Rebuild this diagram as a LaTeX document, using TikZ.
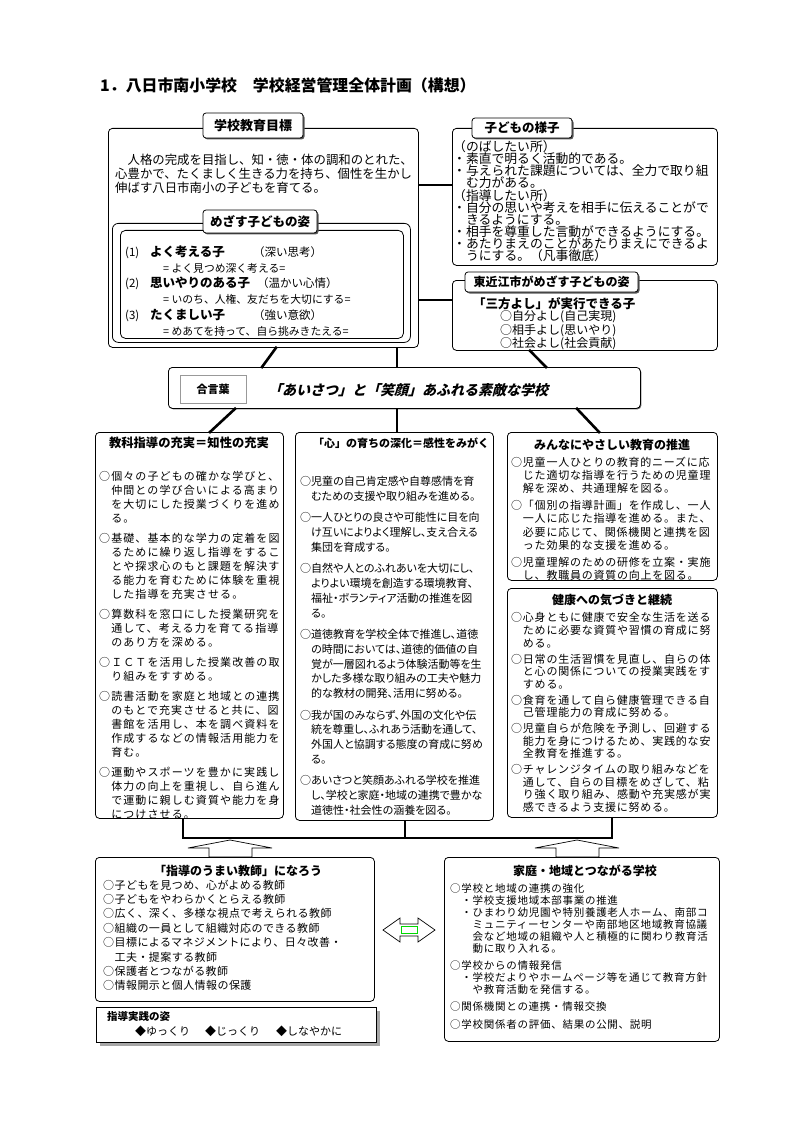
\documentclass[tikz,border=0pt]{standalone}
\usepackage{fontspec}
\setmainfont{Noto Sans CJK JP}
\newfontfamily\jpwa[LetterSpace=10]{Noto Sans CJK JP}
\newfontfamily\jpwb[LetterSpace=7]{Noto Sans CJK JP}
\newfontfamily\jpwc[LetterSpace=4]{Noto Sans CJK JP}
\newfontfamily\jpp[RawFeature=+palt]{Noto Sans CJK JP}
\newfontfamily\jpit[FakeSlant=0.25]{Noto Sans CJK JP}
\usetikzlibrary{shadows,calc}
\newcommand{\fs}[2]{\fontsize{#1}{#2}\selectfont}
\tikzset{
  box/.style={draw, line width=0.8pt, rounded corners=4pt, fill=white, anchor=north west, inner sep=0pt},
  tabbox/.style={draw, line width=0.8pt, rounded corners=3pt, fill=white, inner sep=0pt,
     drop shadow={shadow xshift=1.5pt, shadow yshift=-1.5pt, fill=black!65, opacity=1}},
  conn/.style={line width=2.6pt, line cap=rect},
  txt/.style={anchor=north west, inner sep=0pt, align=left},
  ttl/.style={inner sep=0pt, font=\bfseries},
  outline/.style={draw, line width=0.7pt, fill=white, line join=miter},
}
\begin{document}
\begin{tikzpicture}[x=1pt,y=-1pt]
\useasboundingbox (0,0) rectangle (794,1123);
\fill[white] (0,0) rectangle (794,1123);

% title
\node[anchor=west, inner sep=0pt, font=\bfseries\fs{15.9}{17}] (title) at (100,85) {1．八日市南小学校　学校経営管理全体計画（構想）};

% ---------- school goal box ----------
\node[box, minimum width=310pt, minimum height=219pt] (A) at (108,128) {};
\node[tabbox, minimum width=100pt, minimum height=25pt, font=\bfseries\fs{13}{14}] (Atab) at (253,125.5) {学校教育目標};
\node[txt, font=\fs{12.4}{14}] (Atext) at (115,153.5) {　人格の完成を目指し、知・徳・体の調和のとれた、\\心豊かで、たくましく生きる力を持ち、個性を生かし\\伸ばす八日市南小の子どもを育てる。};

\node[box, minimum width=298pt, minimum height=119pt, rounded corners=6pt] (Bo) at (112,223) {};
\node[box, minimum width=283pt, minimum height=108pt, rounded corners=5pt] (Bi) at (120,230) {};
\node[tabbox, minimum width=114pt, minimum height=23pt, font=\bfseries\fs{12.5}{13}] (Btab) at (260,221.5) {めざす子どもの姿};
\node[txt, font=\fs{11.5}{15.8}] (Btext) at (125,245.5) {%
\makebox[25pt][l]{(1)}\makebox[103pt][l]{\bfseries\fs{12.5}{15.8}よく考える子}（深い思考）\\
\hspace*{38pt}{\fs{10.8}{15.8}= よく見つめ深く考える=}\\
\makebox[25pt][l]{(2)}\makebox[107pt][l]{\bfseries\fs{12.5}{15.8}思いやりのある子}（温かい心情）\\
\hspace*{38pt}{\fs{10.8}{15.8}= いのち、人権、友だちを大切にする=}\\
\makebox[25pt][l]{(3)}\makebox[103pt][l]{\bfseries\fs{12.5}{15.8}たくましい子}（強い意欲）\\
\hspace*{38pt}{\fs{10.8}{15.8}= めあてを持って、自ら挑みきたえる=}};

% ---------- children box ----------
\node[box, minimum width=265pt, minimum height=137pt] (C) at (452,128) {};
\node[tabbox, minimum width=100pt, minimum height=20pt, font=\bfseries\fs{12.5}{13}] (Ctab) at (522,128) {子どもの様子};
\node[txt, font=\fs{12.8}{12.1}] (Ctext) at (453,140.5) {（のばしたい所）\\・素直で明るく活動的である。\\・与えられた課題については、全力で取り組\\　む力がある。\\（指導したい所）\\・自分の思いや考えを相手に伝えることがで\\　きるようにする。\\・相手を尊重した言動ができるようにする。\\・あたりまえのことがあたりまえにできるよ\\　うにする。（凡事徹底）};

\node[box, minimum width=265pt, minimum height=70pt] (D) at (452,280) {};
\node[tabbox, minimum width=173pt, minimum height=20pt, font=\bfseries\fs{12}{13}] (Dtab) at (551.5,282) {東近江市がめざす子どもの姿};
\node[txt, font=\fs{12}{11.4}] (Dtext) at (473,297) {{\bfseries\fs{12.5}{11.4}「三方よし」が実行できる子}\\\hspace*{27pt}○自分よし(自己実現)\\\hspace*{27pt}○相手よし(思いやり)\\\hspace*{27pt}○社会よし(社会貢献)};

\coordinate (y1) at (0,185);
\coordinate (y2) at (0,300);
\draw[conn] (A.east |- y1) -- (C.west |- y1);
\draw[conn] (A.east |- y2) -- (D.west |- y2);

% ---------- motto ----------
\node[box, minimum width=472pt, minimum height=41pt, drop shadow={shadow xshift=1pt, shadow yshift=-1pt, fill=black!60, opacity=1}] (E) at (168,367) {};
\node[draw=black!40, line width=1pt, minimum width=66pt, minimum height=28pt, inner sep=0pt, fill=white, font=\bfseries\fs{11}{12}] (Elab) at (213,389) {合言葉};
\node[anchor=west, inner sep=0pt, font=\jpit\bfseries\fs{14}{15}] (Etext) at (268,390) {「あいさつ」と「笑顔」あふれる素敵な学校};

\draw[conn] ($(A.south west)+(168,0)$) -- ($(E.north west)+(94,0)$);
\draw[conn] ($(A.south west)+(289,0)$) -- ($(E.north west)+(229,0)$);
\draw[conn] ($(D.south west)+(78,0)$) -- ($(E.north west)+(378,0)$);

% ---------- columns ----------
\node[box, minimum width=188pt, minimum height=386pt] (K1) at (95,432) {};
\node[box, minimum width=198pt, minimum height=388pt] (K2) at (295,432) {};
\node[box, minimum width=210pt, minimum height=148pt] (K3) at (507,432) {};
\node[box, minimum width=210pt, minimum height=229pt] (K4) at (507,588) {};

\draw[conn] ($(E.south west)+(67,0)$) -- ($(K1.north west)+(115,0)$);
\draw[conn] ($(E.south west)+(229,0)$) -- ($(K2.north west)+(102,0)$);
\draw[conn] ($(E.south west)+(409,0)$) -- ($(K3.north west)+(92,0)$);

\node[ttl, font=\bfseries\fs{12.3}{13}] (K1h) at (189,443) {教科指導の充実＝知性の充実};
\node[ttl, font=\bfseries\fs{11}{12}] (K2h) at (401,443) {「心」の育ちの深化＝感性をみがく};
\node[ttl, font=\bfseries\fs{12}{13}] (K3h) at (612,445) {みんなにやさしい教育の推進};
\node[ttl, font=\bfseries\fs{12}{13}] (K4h) at (612,600) {健康への気づきと継続};

\node[txt, font=\jpwa\fs{11}{14}] (K1t) at (99,470.5) {○個々の子どもの確かな学びと、\\　仲間との学び合いによる高まり\\　を大切にした授業づくりを進め\\　る。\\[6pt]%
○基礎、基本的な学力の定着を図\\　るために繰り返し指導をするこ\\　とや探求心のもと課題を解決す\\　る能力を育むために体験を重視\\　した指導を充実させる。\\[6pt]%
○算数科を窓口にした授業研究を\\　通して、考える力を育てる指導\\　のあり方を深める。\\[6pt]%
○ＩＣＴを活用した授業改善の取\\　り組みをすすめる。\\[6pt]%
○読書活動を家庭と地域との連携\\　のもとで充実させると共に、図\\　書館を活用し、本を調べ資料を\\　作成するなどの情報活用能力を\\　育む。\\[6pt]%
○運動やスポーツを豊かに実践し\\　体力の向上を重視し、自ら進ん\\　で運動に親しむ資質や能力を身\\　につけさせる。};

\node[txt, font=\jpp\fs{11}{14.8}] (K2t) at (300,476) {○児童の自己肯定感や自尊感情を育\\　むための支援や取り組みを進める。\\[6.6pt]%
○一人ひとりの良さや可能性に目を向\\　け互いによりよく理解し、支え合える\\　集団を育成する。\\[6.6pt]%
○自然や人とのふれあいを大切にし、\\　よりよい環境を創造する環境教育、\\　福祉・ボランティア活動の推進を図\\　る。\\[6.6pt]%
○道徳教育を学校全体で推進し、道徳\\　の時間においては、道徳的価値の自\\　覚が一層図れるよう体験活動等を生\\　かした多様な取り組みの工夫や魅力\\　的な教材の開発、活用に努める。\\[6.6pt]%
○我が国のみならず、外国の文化や伝\\　統を尊重し、ふれあう活動を通して、\\　外国人と協調する態度の育成に努め\\　る。\\[6.6pt]%
○あいさつと笑顔あふれる学校を推進\\　し、学校と家庭・地域の連携で豊かな\\　道徳性・社会性の涵養を図る。};

\node[txt, font=\jpwb\fs{11}{13.3}] (K3t) at (511,456.5) {○児童一人ひとりの教育的ニーズに応\\　じた適切な指導を行うための児童理\\　解を深め、共通理解を図る。\\[3.5pt]%
○「個別の指導計画」を作成し、一人\\　一人に応じた指導を進める。また、\\　必要に応じて、関係機関と連携を図\\　った効果的な支援を進める。\\[3.5pt]%
○児童理解のための研修を立案・実施\\　し、教職員の資質の向上を図る。};

\node[txt, font=\jpwb\fs{11}{12.6}] (K4t) at (511,612.5) {○心身ともに健康で安全な生活を送る\\　ために必要な資質や習慣の育成に努\\　める。\\[3.3pt]%
○日常の生活習慣を見直し、自らの体\\　と心の関係についての授業実践をす\\　すめる。\\[3.3pt]%
○食育を通して自ら健康管理できる自\\　己管理能力の育成に努める。\\[3.3pt]%
○児童自らが危険を予測し、回避する\\　能力を身につけるため、実践的な安\\　全教育を推進する。\\[3.3pt]%
○チャレンジタイムの取り組みなどを\\　通して、自らの目標をめざして、粘\\　り強く取り組み、感動や充実感が実\\　感できるよう支援に努める。};

% ---------- bottom bar ----------
\coordinate (barL) at (183,838);
\coordinate (barM) at (405,838);
\coordinate (barR) at (612,838);
\draw[conn] ($(K1.south west)+(88,0)$) -- (barL) -- (barR) -- ($(K4.south west)+(105,0)$);
\draw[conn] ($(K2.south west)+(110,0)$) -- (barM);

% up arrows
\draw[outline] (230,840) -- (272,848) -- (252,848) -- (252,857) -- (209,857) -- (209,848) -- (188,848) -- cycle;
\draw[outline] (577,840) -- (619,848) -- (599,848) -- (599,857) -- (556,857) -- (556,848) -- (535,848) -- cycle;

% ---------- teacher box ----------
\node[box, minimum width=279pt, minimum height=144pt] (L) at (95,857) {};
\node[ttl, font=\bfseries\fs{12}{13}] (Lh) at (238,871) {「指導のうまい教師」になろう};
\node[txt, font=\jpwc\fs{11}{14.4}] (Lt) at (103,879.5) {○子どもを見つめ、心がよめる教師\\○子どもをやわらかくとらえる教師\\○広く、深く、多様な視点で考えられる教師\\○組織の一員として組織対応のできる教師\\○目標によるマネジメントにより、日々改善・\\　工夫・提案する教師\\○保護者とつながる教師\\○情報開示と個人情報の保護};

\node[draw, line width=0.8pt, fill=white, anchor=north west, inner sep=0pt, minimum width=280pt, minimum height=35pt,
  drop shadow={shadow xshift=4pt, shadow yshift=-4pt, fill=black!35, opacity=1}] (F) at (96,1007) {};
\node[anchor=west, inner sep=0pt, font=\bfseries\fs{10.5}{11}] (Fh) at (107,1016) {指導実践の姿};
\node[anchor=west, inner sep=0pt, font=\fs{11}{12}] (Ft) at (135,1031) {◆ゆっくり\hspace{15pt}◆じっくり\hspace{16pt}◆しなやかに};

% ---------- community box ----------
\node[box, minimum width=275pt, minimum height=184pt] (R) at (444,857) {};
\node[ttl, font=\bfseries\fs{12}{13}] (Rh) at (585,871) {家庭・地域とつながる学校};
\node[txt, font=\jpwb\fs{10.5}{12}] (Rt) at (450,883.8) {○学校と地域の連携の強化\\　・学校支援地域本部事業の推進\\　・ひまわり幼児園や特別養護老人ホーム、南部コ\\　　ミュニティーセンターや南部地区地域教育協議\\　　会など地域の組織や人と積極的に関わり教育活\\　　動に取り入れる。\\[4.5pt]%
○学校からの情報発信\\　・学校だよりやホームページ等を通じて教育方針\\　　や教育活動を発信する。\\[5pt]%
○関係機関との連携・情報交換\\[6pt]%
○学校関係者の評価、結果の公開、説明};

% double arrow
\draw[outline] (383,930) -- (400,918) -- (400,924) -- (418,924) -- (418,918) -- (435,930) -- (418,942) -- (418,936) -- (400,936) -- (400,942) -- cycle;
\draw[green!85!black, line width=1pt] (401,926.5) rectangle (417,933.5);
\end{tikzpicture}
\end{document}
